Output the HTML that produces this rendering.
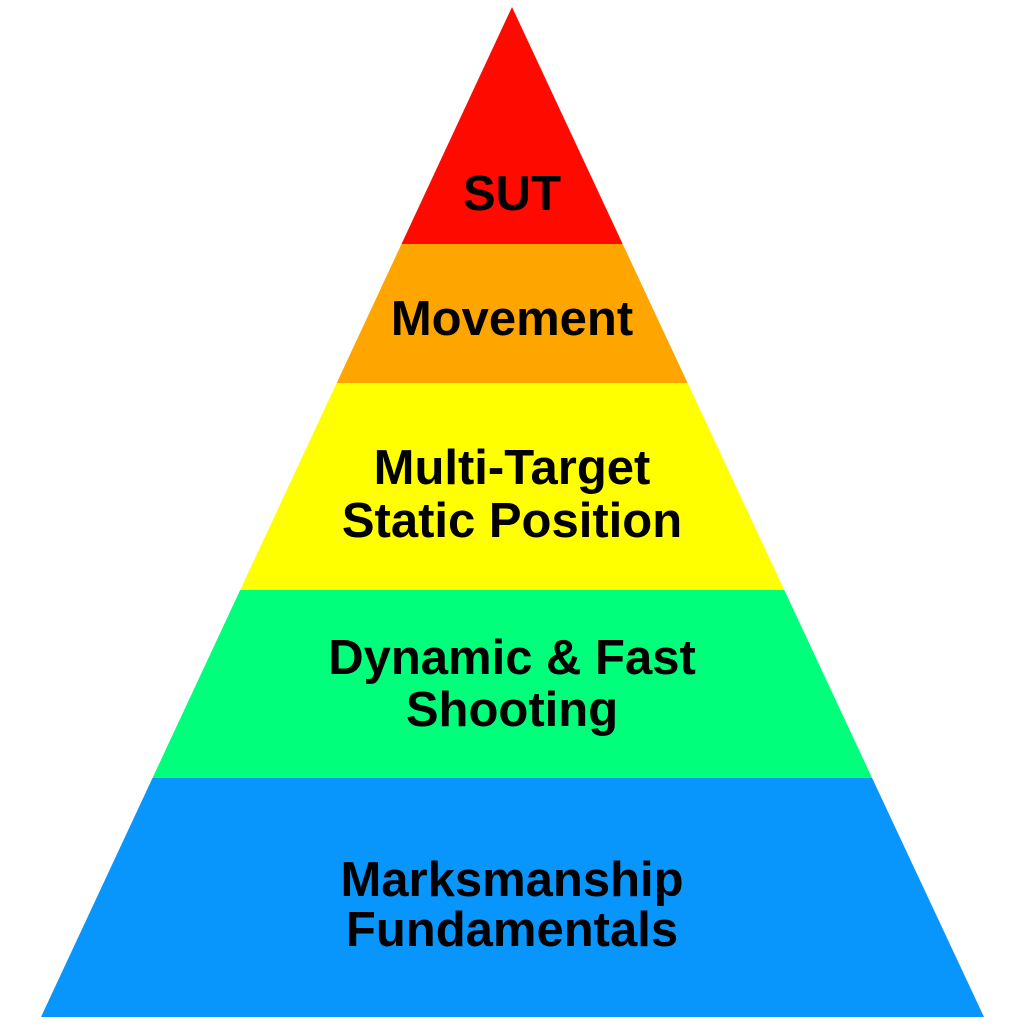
<!DOCTYPE html>
<html><head><meta charset="utf-8"><style>html,body{margin:0;padding:0;background:#fff;}</style></head>
<body>
<svg width="1024" height="1024" viewBox="0 0 1024 1024" xmlns="http://www.w3.org/2000/svg">
<rect width="1024" height="1024" fill="#fff"/>
<polygon points="512,7 622.7,244 401.5,244" fill="#ff0a00"/>
<polygon points="401.5,244 622.7,244 687.6,383 336.7,383" fill="#ffa500"/>
<polygon points="336.7,383 687.6,383 784.3,590 240.2,590" fill="#ffff00"/>
<polygon points="240.2,590 784.3,590 872.1,778 152.5,778" fill="#00ff7a"/>
<polygon points="152.5,778 872.1,778 984,1017 41,1017" fill="#0896fc"/>
<g font-family="Liberation Sans, sans-serif" font-weight="bold" font-size="49" text-anchor="middle" fill="#000">
<text x="512" y="210">SUT</text>
<text x="512" y="335">Movement</text>
<text x="512" y="484">Multi-Target</text>
<text x="512" y="537">Static Position</text>
<text x="512" y="674">Dynamic &amp; Fast</text>
<text x="512" y="726">Shooting</text>
<text x="512" y="896">Marksmanship</text>
<text x="512" y="946">Fundamentals</text>
</g>
</svg>
</body></html>
